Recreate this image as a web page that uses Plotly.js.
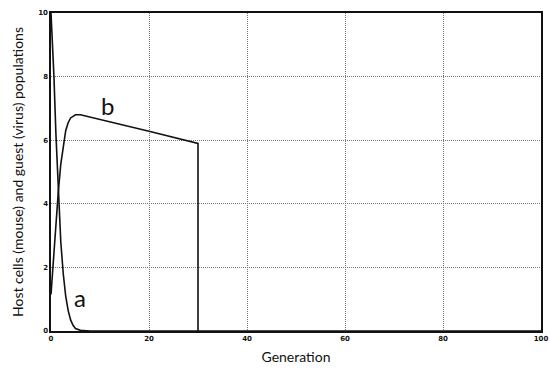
<!DOCTYPE html>
<html>
<head>
<meta charset="utf-8">
<script src="https://cdn.plot.ly/plotly-3.0.1.min.js"></script>
<style>
  html, body { margin: 0; padding: 0; background: #fff; }
  #chart { width: 550px; height: 369px; }
</style>
</head>
<body>
<div id="chart"></div>
<script>
// curve a: host cells (mouse) — collapses in the first few generations
var genA = [0, 0.3, 0.6, 1, 1.5, 2, 2.5, 3, 3.5, 4, 4.5, 5, 6, 8, 30];
var popA = [10, 9.1, 8.0, 6.2, 4.2, 2.8, 1.8, 1.1, 0.65, 0.35, 0.18, 0.08, 0.02, 0, 0];

// curve b: guest (virus) — quick rise, slow decline, cut off at generation 30
var genB = [0, 0.5, 1, 1.5, 2, 2.5, 3, 3.5, 4, 5, 6, 20, 30, 30, 100];
var popB = [1.15, 2.3, 3.4, 4.4, 5.25, 5.85, 6.3, 6.55, 6.7, 6.8, 6.8, 6.28, 5.9, 0, 0];

// labels on the curves
var labelText = ["a", "b"];
var labelX = [6, 11.5];
var labelY = [1.05, 7.1];

var lineStyle = { color: "#111", width: 1.6 };

var traces = [
  { x: genA, y: popA, type: "scatter", mode: "lines", line: lineStyle, name: "a" },
  { x: genB, y: popB, type: "scatter", mode: "lines", line: lineStyle, name: "b" }
];

var annotations = labelText.map(function (t, i) {
  return {
    x: labelX[i], y: labelY[i], text: t, showarrow: false,
    font: { family: "Lato, 'Open Sans', sans-serif", size: 24, color: "#111" }
  };
});

var layout = {
  width: 550,
  height: 369,
  margin: { l: 51, r: 9, t: 13, b: 38 },
  paper_bgcolor: "#fff",
  plot_bgcolor: "#fff",
  showlegend: false,
  font: { family: "Lato, 'Open Sans', sans-serif", color: "#111" },
  xaxis: {
    range: [0, 100],
    tickvals: [0, 20, 40, 60, 80, 100],
    tickfont: { size: 7, family: "'DejaVu Sans', sans-serif", weight: "bold" },
    ticks: "",
    showgrid: true,
    gridcolor: "#777",
    griddash: "1px,1px",
    gridwidth: 1,
    zeroline: false,
    showline: true,
    linecolor: "#111",
    linewidth: 1.6,
    mirror: true,
    title: { text: "Generation", font: { size: 14 }, standoff: 10 }
  },
  yaxis: {
    range: [0, 10],
    tickvals: [0, 2, 4, 6, 8, 10],
    tickfont: { size: 7, family: "'DejaVu Sans', sans-serif", weight: "bold" },
    ticks: "",
    showgrid: true,
    gridcolor: "#777",
    griddash: "1px,1px",
    gridwidth: 1,
    zeroline: false,
    showline: true,
    linecolor: "#111",
    linewidth: 1.6,
    mirror: true,
    title: { text: "Host cells (mouse) and guest (virus) populations", font: { size: 14 }, standoff: 11 }
  },
  annotations: annotations
};

Plotly.newPlot("chart", traces, layout, { displayModeBar: false, staticPlot: true });
</script>
</body>
</html>
